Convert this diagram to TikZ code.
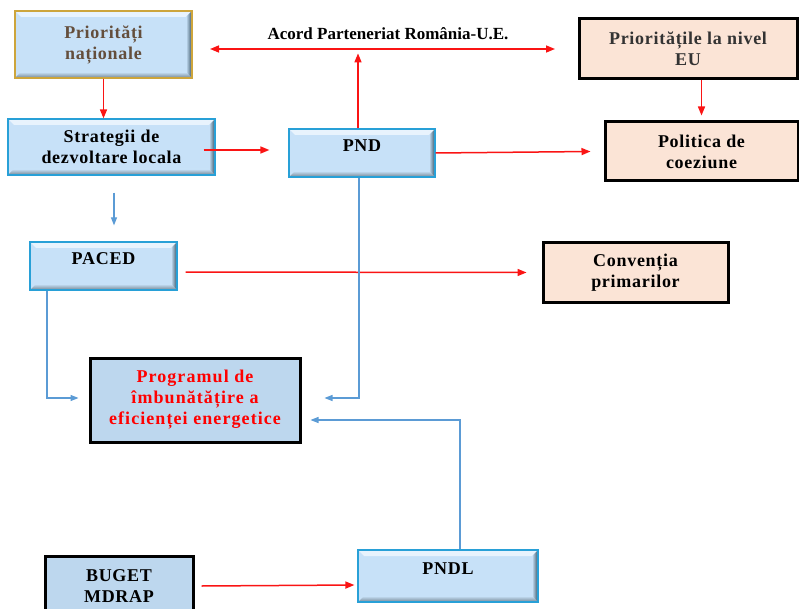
\documentclass[tikz,border=0pt]{standalone}
\usepackage{fontspec}
\setmainfont{Liberation Serif}
\usetikzlibrary{arrows.meta}

\definecolor{bevfill}{RGB}{199,225,248}
\definecolor{bevline}{RGB}{40,160,215}
\definecolor{bevdark}{RGB}{55,80,98}
\definecolor{bevhigh}{RGB}{232,243,253}
\definecolor{priogold}{RGB}{205,165,60}
\definecolor{priotext}{RGB}{100,78,60}
\definecolor{peach}{RGB}{251,228,214}
\definecolor{progfill}{RGB}{189,215,238}
\definecolor{arrred}{RGB}{250,20,20}
\definecolor{arrblue}{RGB}{91,155,213}

\tikzset{
  bevel/.style={path picture={
    \fill[bevhigh] (path picture bounding box.north west) -- (path picture bounding box.north east)
      -- ([shift={(-6pt,-6pt)}]path picture bounding box.north east) -- ([shift={(6pt,-6pt)}]path picture bounding box.north west) -- cycle;
    \shade[top color=bevfill, bottom color=bevdark!70] (path picture bounding box.south west) -- (path picture bounding box.south east)
      -- ([shift={(-6pt,6pt)}]path picture bounding box.south east) -- ([shift={(6pt,6pt)}]path picture bounding box.south west) -- cycle;
    \shade[left color=bevfill, right color=bevdark] (path picture bounding box.south east) -- (path picture bounding box.north east)
      -- ([shift={(-6pt,-6pt)}]path picture bounding box.north east) -- ([shift={(-6pt,6pt)}]path picture bounding box.south east) -- cycle;
  }},
  boxtext/.style={font=\fontsize{18}{21}\selectfont\bfseries\addfontfeature{LetterSpace=4}},
  progtext/.style={font=\fontsize{18}{21}\selectfont\bfseries\addfontfeature{LetterSpace=6}}
}

\begin{document}
\begin{tikzpicture}[x=1pt,y=-1pt,
    every node/.style={align=center, inner sep=0pt}]
  \tikzstyle{nodeB}=[rectangle, boxtext, draw=bevline, line width=1.2pt, fill=bevfill, bevel]
  \tikzstyle{nodeP}=[rectangle, boxtext, draw=black, line width=3pt, fill=peach]
  \tikzstyle{nodeK}=[rectangle, boxtext, draw=black, line width=3pt, fill=progfill]
  \tikzstyle{raised}=[text depth=14pt]
  \tikzstyle{redA}=[draw=arrred, line width=1.5pt, -{Triangle[length=9pt,width=7pt]}]
  \tikzstyle{blueA}=[draw=arrblue, line width=1.1pt, -{Triangle[length=8pt,width=6pt]}]

  \useasboundingbox (0,0) rectangle (799,609);

  % Boxes
  \node[nodeB, draw=priogold, text=priotext, minimum width=177pt, minimum height=67pt] (prio) at (103.5,44.5) {Priorități\\naționale};
  \node[nodeB, minimum width=207pt, minimum height=56pt] (strat) at (111.5,147) {Strategii de\\dezvoltare locala};
  \node[nodeB, raised, minimum width=146pt, minimum height=48pt] (pnd) at (362,153) {PND};
  \node[nodeP, text=black!80, minimum width=218pt, minimum height=60pt] (prioEU) at (688,49) {Prioritățile la nivel\\EU};
  \node[nodeP, minimum width=193pt, minimum height=59pt] (coez) at (701.5,151.5) {Politica de\\coeziune};
  \node[nodeB, raised, minimum width=147pt, minimum height=48pt] (paced) at (103.5,266) {PACED};
  \node[nodeP, minimum width=185pt, minimum height=59pt] (conv) at (635.5,272.5) {Convenția\\primarilor};
  \node[nodeK, progtext, text=red, minimum width=210pt, minimum height=84pt] (prog) at (195,400) {Programul de\\îmbunătățire a\\eficienței energetice};
  \node[nodeK, minimum width=148pt, minimum height=60pt] (buget) at (119,586) {BUGET\\MDRAP};
  \node[nodeB, raised, minimum width=180pt, minimum height=52pt] (pndl) at (448,576) {PNDL};

  % Acord
  \coordinate (acordW) at (210,49);
  \coordinate (acordE) at (555,49);
  \node[font=\fontsize{17}{20}\selectfont\bfseries] (acordlbl) at (388,34) {Acord Parteneriat România-U.E.};
  \draw[redA, {Triangle[length=9pt,width=7pt]}-{Triangle[length=9pt,width=7pt]}] (acordW) -- (acordE);

  % red connectors
  \draw[redA] ([xshift=-4pt]pnd.north) -- ++(0,-75);
  \draw[redA] (prio.south) -- (prio.south |- strat.north);
  \draw[redA] ([shift={(-12pt,-3pt)}]strat.east) -- ([shift={(-19pt,3pt)}]pnd.west);
  \draw[redA] (pnd.east) -- ([xshift=-13pt]coez.west);
  \draw[redA, shorten >=5pt] (coez.north |- prioEU.south) -- (coez.north);
  \draw[redA] ([shift={(8pt,-6pt)}]paced.east) -- ([xshift=-15pt]conv.west);
  \draw[redA] ([xshift=7pt]buget.east) -- ([shift={(-3pt,-9pt)}]pndl.west);

  % blue connectors
  \draw[blueA] ([shift={(2.5pt,-17pt)}]strat.south) -- ([shift={(10.5pt,16pt)}]paced.north);
  \draw[blueA] ([xshift=-56.5pt]paced.south) |- ([shift={(-10pt,2pt)}]prog.west);
  \draw[blueA] ([xshift=-3pt]pnd.south) |- ([shift={(23pt,2pt)}]prog.east);
  \draw[blueA] ([xshift=12pt]pndl.north) |- ([shift={(9pt,-20pt)}]prog.east);
\end{tikzpicture}
\end{document}
